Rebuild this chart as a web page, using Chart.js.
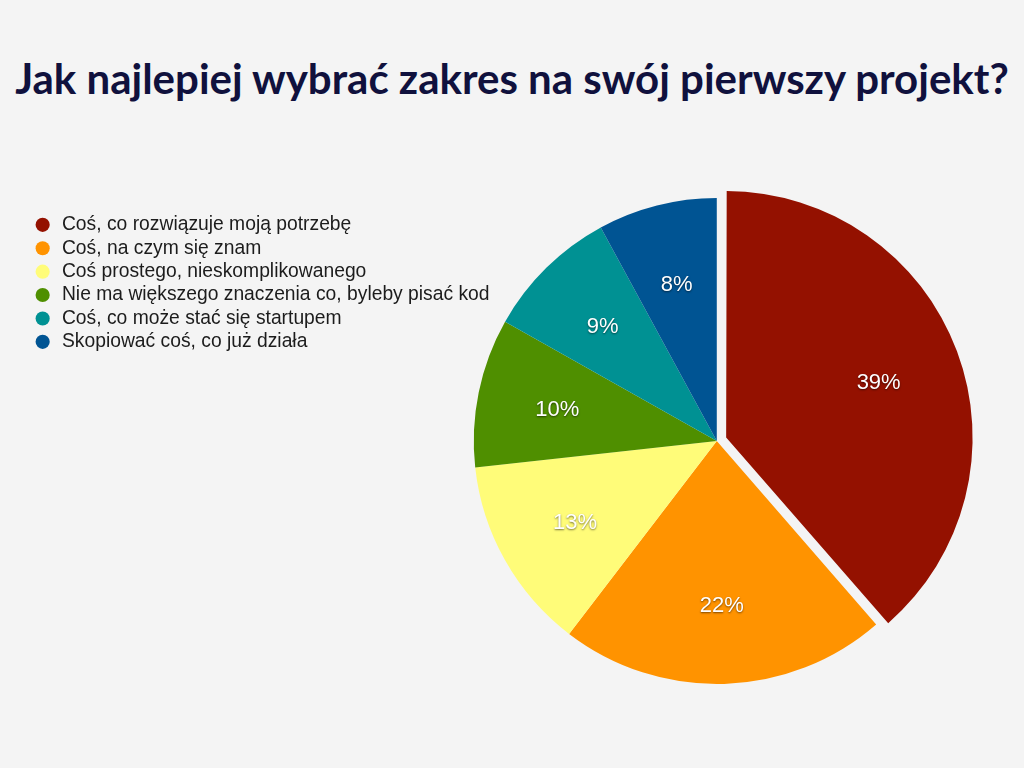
<!DOCTYPE html>
<html lang="pl">
<head>
<meta charset="utf-8">
<title>Jak najlepiej wybrać zakres na swój pierwszy projekt?</title>
<script src="https://cdn.jsdelivr.net/npm/chart.js@4/dist/chart.umd.min.js"></script>
<style>
  html, body { margin: 0; padding: 0; background: #f4f4f4; }
  #wrap { position: relative; width: 1024px; height: 768px; overflow: hidden; }
  #title {
    position: absolute; left: 0; top: 53px; width: 1024px; margin: 0;
    text-align: center; font-family: 'Lato', sans-serif; font-weight: 700;
    font-size: 42px; color: #10113d; white-space: nowrap;
  }
  #chartBox { position: absolute; left: 0; top: 0; width: 1024px; height: 768px; }
</style>
</head>
<body>
<div id="wrap">
  <h1 id="title">Jak najlepiej wybrać zakres na swój pierwszy projekt?</h1>
  <div id="chartBox"><canvas id="pieChart"></canvas></div>
</div>
<script>
// Dane
const kategorie = [
  'Coś, co rozwiązuje moją potrzebę',
  'Coś, na czym się znam',
  'Coś prostego, nieskomplikowanego',
  'Nie ma większego znaczenia co, byleby pisać kod',
  'Coś, co może stać się startupem',
  'Skopiować coś, co już działa'
];
const procenty = [39, 22, 13, 10, 9, 8];
const kolory = ['#941100', '#ff9300', '#fffc79', '#4f8f00', '#009193', '#005493'];
// Chart.js przesuwa wycinek o offset / 4 px
const wysuniecie = [40, 0, 0, 0, 0, 0];

// Etykiety procentowe na wycinkach
const etykietyProcent = {
  id: 'etykietyProcent',
  afterDatasetsDraw(chart) {
    const ctx = chart.ctx;
    const meta = chart.getDatasetMeta(0);
    ctx.save();
    ctx.font = '22px "Liberation Sans", Arial, sans-serif';
    ctx.fillStyle = '#ffffff';
    ctx.textAlign = 'center';
    ctx.textBaseline = 'middle';
    ctx.shadowColor = 'rgba(0,0,0,0.55)';
    ctx.shadowBlur = 2;
    ctx.shadowOffsetY = 1;
    meta.data.forEach((arc, i) => {
      const p = arc.getProps(['x', 'y', 'startAngle', 'endAngle', 'outerRadius'], true);
      const mid = (p.startAngle + p.endAngle) / 2;
      const off = (arc.options.offset || 0) / 4;
      const r = p.outerRadius * 0.67 + off;
      ctx.fillText(procenty[i] + '%', p.x + Math.cos(mid) * r, p.y + Math.sin(mid) * r + 2);
    });
    ctx.restore();
  }
};

const ctxPie = document.getElementById('pieChart').getContext('2d');
const pieChart = new Chart(ctxPie, {
  type: 'pie',
  data: {
    labels: kategorie,
    datasets: [{
      data: procenty,
      backgroundColor: kolory,
      borderWidth: 0,
      offset: wysuniecie,
      radius: 243,
      clip: false
    }]
  },
  options: {
    responsive: true,
    maintainAspectRatio: false,
    animation: false,
    layout: { padding: { top: 120, bottom: 6, left: 28.9, right: 90 } },
    plugins: {
      tooltip: { enabled: false },
      legend: {
        position: 'left',
        align: 'start',
        maxWidth: 500,
        title: { display: true, text: '', padding: { top: 76.7, bottom: 0 } },
        labels: {
          usePointStyle: true,
          pointStyle: 'circle',
          boxHeight: 10,
          boxWidth: 19.3,
          padding: 4.1,
          color: '#1c1c1c',
          font: { family: '"Liberation Sans", Arial, sans-serif', size: 19.3 }
        }
      }
    }
  },
  plugins: [etykietyProcent]
});
</script>
</body>
</html>
